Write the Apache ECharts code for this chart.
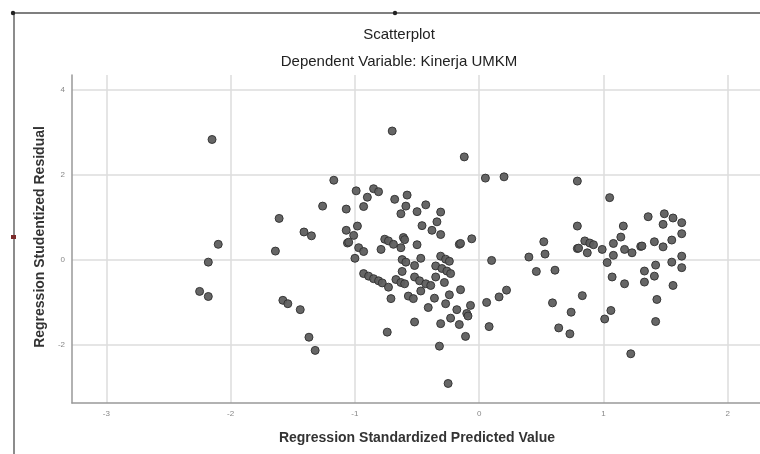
<!DOCTYPE html>
<html>
<head>
<meta charset="utf-8">
<script src="https://cdn.jsdelivr.net/npm/echarts@6/dist/echarts.min.js"></script>
<style>html,body{margin:0;padding:0;background:#fff;}#c{width:760px;height:454px;}</style>
</head>
<body>
<div id="c"></div>
<script>
const chartTitle = "Scatterplot";
const chartSubtitle = "Dependent Variable: Kinerja UMKM";
const xAxisTitle = "Regression Standardized Predicted Value";
const yAxisTitle = "Regression Studentized Residual";
const xTicks = [-3, -2, -1, 0, 1, 2];
const yTicks = [-2, 0, 2, 4];
// predicted (x) and residual (y) values
const predicted = [
 -2.15,-2.10,-2.18,-2.25,-2.18,-1.61,-1.64,-1.41,-1.35,-1.58,-1.54,-1.44,-1.37,-1.32,-1.26,-1.17,
 -0.70,-0.12,0.05,0.20,-0.99,-0.85,-0.81,-0.90,-0.68,-0.58,-1.07,-0.93,-0.59,-0.43,-0.50,-0.63,-0.31,
 -0.34,-0.46,-0.98,-1.07,-0.38,-1.01,-0.31,-1.06,-1.05,-0.76,-0.73,-0.69,-0.61,-0.60,-0.63,-0.97,-0.93,
 -0.79,-0.50,-0.16,-0.15,-0.06,-1.00,-0.47,-0.62,-0.59,-0.31,-0.27,-0.24,-0.52,0.10,-0.35,-0.30,-0.26,
 -0.23,-0.62,-0.93,-0.89,-0.85,-0.81,-0.78,-0.73,-0.67,-0.63,-0.60,-0.52,-0.48,-0.43,-0.39,-0.35,-0.28,
 -0.71,-0.57,-0.53,-0.47,-0.36,-0.41,-0.24,-0.27,-0.15,-0.18,-0.07,-0.10,-0.09,-0.23,-0.31,-0.16,-0.11,
 -0.52,-0.74,-0.32,-0.25,0.06,0.16,0.22,0.08,
 0.79,1.05,1.36,1.49,1.56,1.63,1.48,1.63,1.55,1.48,1.41,1.30,1.31,1.23,1.17,1.16,1.14,1.08,1.08,0.99,
 1.03,0.79,0.85,0.89,0.92,0.79,0.80,0.87,0.52,0.53,0.40,0.46,0.61,1.63,1.55,1.63,1.42,1.33,1.41,1.33,
 1.56,1.07,1.17,0.59,0.74,0.83,0.64,0.73,1.06,1.01,1.22,1.43,1.42
];
const residual = [
 2.83,0.36,-0.06,-0.75,-0.87,0.97,0.20,0.65,0.56,-0.96,-1.04,-1.18,-1.83,-2.14,1.26,1.87,
 3.03,2.42,1.92,1.95,1.62,1.67,1.60,1.47,1.42,1.52,1.19,1.25,1.26,1.29,1.13,1.08,1.12,
 0.89,0.80,0.79,0.69,0.69,0.57,0.59,0.39,0.41,0.48,0.44,0.36,0.52,0.47,0.28,0.28,0.19,
 0.24,0.35,0.36,0.38,0.49,0.03,0.03,0.00,-0.06,0.08,0.01,-0.04,-0.14,-0.02,-0.15,-0.21,-0.27,
 -0.33,-0.28,-0.33,-0.39,-0.45,-0.50,-0.55,-0.65,-0.47,-0.54,-0.57,-0.41,-0.50,-0.57,-0.61,-0.41,-0.54,
 -0.92,-0.86,-0.92,-0.74,-0.91,-1.13,-0.83,-1.04,-0.71,-1.18,-1.08,-1.27,-1.33,-1.38,-1.51,-1.53,-1.81,
 -1.47,-1.71,-2.04,-2.92,-1.01,-0.88,-0.72,-1.58,
 1.85,1.46,1.01,1.08,0.98,0.87,0.83,0.61,0.46,0.30,0.42,0.31,0.32,0.16,0.24,0.79,0.53,0.38,0.10,0.24,
 -0.07,0.79,0.44,0.39,0.35,0.26,0.27,0.16,0.42,0.13,0.06,-0.28,-0.25,0.08,-0.06,-0.19,-0.13,-0.27,-0.39,-0.53,
 -0.61,-0.41,-0.57,-1.02,-1.24,-0.85,-1.61,-1.75,-1.20,-1.40,-2.22,-0.94,-1.46
];
const points = predicted.map((x, i) => [x, residual[i]]);

const chart = echarts.init(document.getElementById('c'), null, {renderer: 'canvas'});
chart.setOption({
  backgroundColor: '#fff',
  animation: false,
  title: [
    {text: chartTitle, left: 394, top: 22, textAlign: 'center',
     textStyle: {fontFamily: 'Liberation Sans', fontSize: 15, fontWeight: 'normal', color: '#222'}},
    {text: chartSubtitle, left: 394, top: 49, textAlign: 'center',
     textStyle: {fontFamily: 'Liberation Sans', fontSize: 15, fontWeight: 'normal', color: '#222'}}
  ],
  graphic: [
    {type: 'line', shape: {x1: 12, y1: 13, x2: 760, y2: 13}, style: {stroke: '#555', lineWidth: 1.5}},
    {type: 'line', shape: {x1: 14, y1: 13, x2: 14, y2: 454}, style: {stroke: '#666', lineWidth: 1.5}},
    {type: 'circle', shape: {cx: 13, cy: 13, r: 2.2}, style: {fill: '#222'}},
    {type: 'circle', shape: {cx: 395, cy: 13, r: 2.2}, style: {fill: '#222'}},
    {type: 'rect', shape: {x: 11, y: 235, width: 5, height: 4}, style: {fill: '#7a2a2a'}},
    {type: 'text', x: 40, y: 237, rotation: Math.PI / 2,
     style: {text: yAxisTitle, font: 'bold 14px "Liberation Sans"', fill: '#333', align: 'center', verticalAlign: 'middle'}},
    {type: 'text', x: 417, y: 438,
     style: {text: xAxisTitle, font: 'bold 14px "Liberation Sans"', fill: '#333', align: 'center', verticalAlign: 'middle'}}
  ],
  grid: {left: 72, top: 75, right: 0, height: 328, containLabel: false},
  xAxis: {
    type: 'value', min: -3.277, max: 2.26,
    axisLine: {show: true, onZero: false, lineStyle: {color: '#999', width: 1.5}},
    axisTick: {show: false, customValues: xTicks},
    axisLabel: {customValues: xTicks, fontSize: 8, color: '#888', margin: 7, fontFamily: 'Liberation Sans'},
    splitLine: {show: true, lineStyle: {color: '#ddd', width: 1.5}}
  },
  yAxis: {
    type: 'value', min: -3.38, max: 4.35,
    axisLine: {show: true, onZero: false, lineStyle: {color: '#999', width: 1.5}},
    axisTick: {show: false, customValues: yTicks},
    axisLabel: {customValues: yTicks, fontSize: 8, color: '#888', margin: 7, fontFamily: 'Liberation Sans'},
    splitLine: {show: true, lineStyle: {color: '#ddd', width: 1.5}}
  },
  series: [{
    type: 'scatter',
    data: points,
    symbol: 'circle',
    symbolSize: 8,
    itemStyle: {color: '#5e5e5e', borderColor: '#333', borderWidth: 1, opacity: 0.95}
  }]
});
</script>
</body>
</html>
